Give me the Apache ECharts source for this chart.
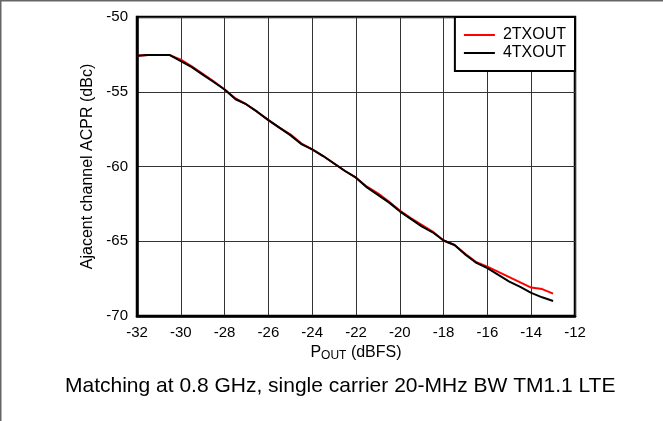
<!DOCTYPE html>
<html>
<head>
<meta charset="utf-8">
<style>
  html, body { margin: 0; padding: 0; background: #fff; }
  #main { width: 663px; height: 421px; }
</style>
<script src="https://cdn.jsdelivr.net/npm/echarts@6/dist/echarts.min.js"></script>
</head>
<body>
<div id="main"></div>
<script>
// P_OUT (dBFS)
var pout = [-32, -31.5, -31, -30.5, -30, -29.5, -29, -28.5, -28, -27.5,
  -27, -26.5, -26, -25.5, -25, -24.5, -24, -23.5, -23, -22.5,
  -22, -21.5, -21, -20.5, -20, -19.5, -19, -18.5, -18, -17.5,
  -17, -16.5, -16, -15.5, -15, -14.5, -14, -13.5, -13];

// ACPR (dBc)
var tx2 = [-52.6, -52.55, -52.55, -52.55, -52.85, -53.3, -53.8, -54.3, -54.85, -55.45,
  -55.85, -56.35, -56.9, -57.4, -57.85, -58.45, -58.85, -59.3, -59.8, -60.3,
  -60.75, -61.35, -61.8, -62.35, -62.95, -63.45, -63.9, -64.35, -64.95, -65.25,
  -65.85, -66.4, -66.7, -67.05, -67.4, -67.75, -68.1, -68.2, -68.5];
var tx4 = [-52.6, -52.55, -52.55, -52.55, -52.95, -53.35, -53.85, -54.35, -54.85, -55.5,
  -55.85, -56.35, -56.9, -57.4, -57.9, -58.5, -58.85, -59.3, -59.8, -60.3,
  -60.75, -61.4, -61.9, -62.4, -63.0, -63.5, -64.0, -64.4, -64.95, -65.25,
  -65.9, -66.45, -66.8, -67.25, -67.7, -68.05, -68.45, -68.75, -69.0];

var names = ['2TXOUT', '4TXOUT'];
var colors = ['#ff0000', '#000000'];

function pairs(xs, ys) {
  return xs.map(function (x, i) { return [x, ys[i]]; });
}

var font = 'Liberation Sans, Arial, sans-serif';
var myChart = echarts.init(document.getElementById('main'));
var option = {
  animation: false,
  backgroundColor: '#fff',
  textStyle: { fontFamily: font },
  title: {
    text: 'Matching at 0.8 GHz, single carrier 20-MHz BW TM1.1 LTE',
    left: 60,
    top: 371,
    textStyle: { fontFamily: font, fontSize: 21, fontWeight: 'normal', color: '#000' }
  },
  graphic: [
    { type: 'line', shape: { x1: 0, y1: 0.75, x2: 663, y2: 0.75 }, style: { stroke: '#666', lineWidth: 1.5 } },
    { type: 'line', shape: { x1: 0.75, y1: 0, x2: 0.75, y2: 421 }, style: { stroke: '#666', lineWidth: 1.5 } }
  ],
  legend: {
    data: names,
    orient: 'vertical',
    right: 88,
    top: 17,
    padding: [10, 9, 10, 9],
    itemGap: 2,
    itemWidth: 31,
    itemHeight: 2,
    icon: 'rect',
    backgroundColor: '#fff',
    borderColor: '#000',
    borderWidth: 2,
    borderRadius: 0,
    textStyle: { fontFamily: font, fontSize: 16, color: '#000', padding: [0, 0, 0, 3] }
  },
  grid: {
    left: 137,
    right: 88,
    top: 17,
    bottom: 105,
    show: true,
    borderColor: '#000',
    borderWidth: 2.5
  },
  xAxis: {
    type: 'value',
    min: -32,
    max: -12,
    interval: 2,
    name: '{p|P}{s|OUT}{p| (dBFS)}',
    nameLocation: 'middle',
    nameGap: 26,
    nameTextStyle: {
      rich: {
        p: { fontFamily: font, fontSize: 16, color: '#000' },
        s: { fontFamily: font, fontSize: 12, color: '#000', verticalAlign: 'bottom', padding: [6, 0, 0, 0] }
      }
    },
    axisLine: { show: true, onZero: false, lineStyle: { color: '#000', width: 2.5 } },
    axisTick: { show: false },
    axisLabel: { margin: 9, fontFamily: font, fontSize: 15, color: '#000' },
    splitLine: { show: true, lineStyle: { color: '#333', width: 1 } }
  },
  yAxis: {
    type: 'value',
    min: -70,
    max: -50,
    interval: 5,
    name: 'Ajacent channel ACPR (dBc)',
    nameLocation: 'middle',
    nameGap: 40,
    nameTextStyle: { fontFamily: font, fontSize: 16, color: '#000' },
    axisLine: { show: true, onZero: false, lineStyle: { color: '#000', width: 2.5 } },
    axisTick: { show: false },
    axisLabel: { margin: 9, fontFamily: font, fontSize: 15, color: '#000' },
    splitLine: { show: true, lineStyle: { color: '#333', width: 1 } }
  },
  series: [
    {
      name: names[0],
      type: 'line',
      data: pairs(pout, tx2),
      showSymbol: false,
      symbol: 'none',
      lineStyle: { color: colors[0], width: 2 },
      itemStyle: { color: colors[0] },
      z: 2
    },
    {
      name: names[1],
      type: 'line',
      data: pairs(pout, tx4),
      showSymbol: false,
      symbol: 'none',
      lineStyle: { color: colors[1], width: 2 },
      itemStyle: { color: colors[1] },
      z: 3
    }
  ]
};
myChart.setOption(option);
</script>
</body>
</html>
